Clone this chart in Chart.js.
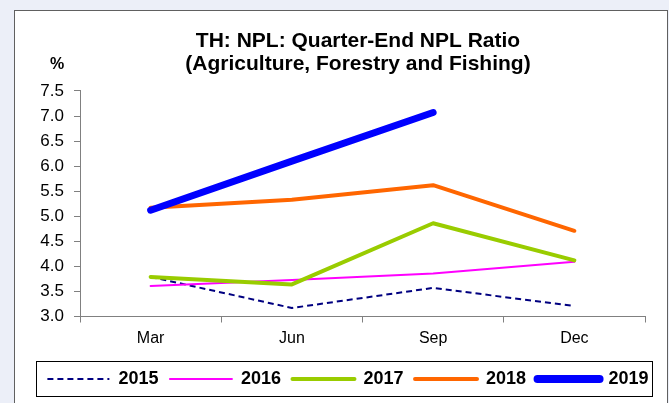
<!DOCTYPE html>
<html>
<head>
<meta charset="utf-8">
<script src="https://cdn.jsdelivr.net/npm/chart.js@4"></script>
<style>
  html, body { margin: 0; padding: 0; }
  body { width: 669px; height: 403px; background: #eceff8; overflow: hidden; position: relative; }
  #frame { position: absolute; left: 14px; top: 10px; width: 652px; height: 400px; border: 1px solid #606060; background: #fff; }
  #frame canvas { display: block; }
</style>
</head>
<body>
<div id="frame"><canvas id="npl" width="652" height="392"></canvas></div>
<script>
const quarters = ['Mar', 'Jun', 'Sep', 'Dec'];
const years = ['2015', '2016', '2017', '2018', '2019'];
const npl2015 = [3.79, 3.17, 3.57, 3.21];
const npl2016 = [3.61, 3.73, 3.86, 4.09];
const npl2017 = [3.79, 3.64, 4.86, 4.12];
const npl2018 = [5.17, 5.33, 5.62, 4.71];
const npl2019 = [5.12, 6.10, 7.07, null];
const yTicks = [3.0, 3.5, 4.0, 4.5, 5.0, 5.5, 6.0, 6.5, 7.0, 7.5];

const seriesStyle = [
  { color: '#000080', width: 2, dash: [6, 4], cap: 'butt' },
  { color: '#ff00ff', width: 2, dash: [], cap: 'round' },
  { color: '#99cc00', width: 4, dash: [], cap: 'round' },
  { color: '#ff6600', width: 4, dash: [], cap: 'round' },
  { color: '#0000ff', width: 7, dash: [], cap: 'round' }
];
const seriesValues = [npl2015, npl2016, npl2017, npl2018, npl2019];

const datasets = years.map((year, i) => ({
  label: year,
  data: seriesValues[i],
  borderColor: seriesStyle[i].color,
  backgroundColor: seriesStyle[i].color,
  borderWidth: seriesStyle[i].width,
  borderDash: seriesStyle[i].dash,
  borderCapStyle: seriesStyle[i].cap,
  borderJoinStyle: 'round',
  pointRadius: 0,
  fill: false,
  tension: 0,
  order: years.length - 1 - i // later years drawn on top
}));

const FONT = '"Liberation Sans", Arial, sans-serif';

// nudge title and legend sideways, draw the "%" label and the legend frame
const extras = {
  id: 'extras',
  afterLayout(chart) {
    chart.titleBlock.left += 28;
    chart.titleBlock.right += 28;
    chart.legend.left += 18;
    chart.legend.right += 18;
  },
  afterDraw(chart) {
    const ctx = chart.ctx;
    ctx.save();
    ctx.font = 'bold 16px ' + FONT;
    ctx.fillStyle = '#000';
    ctx.textAlign = 'center';
    ctx.textBaseline = 'middle';
    ctx.fillText('%', 42, 54);

    const first = chart.legend.legendHitBoxes[0];
    if (first) {
      const cy = Math.round(first.top + first.height / 2);
      ctx.strokeStyle = '#000';
      ctx.lineWidth = 1;
      ctx.strokeRect(21.5, cy - 17.5, 616, 35);
    }
    ctx.restore();
  }
};

new Chart(document.getElementById('npl'), {
  type: 'line',
  data: { labels: quarters, datasets: datasets },
  plugins: [extras],
  options: {
    responsive: false,
    animation: false,
    layout: { padding: { left: 0, right: 22, top: 0, bottom: 5 } },
    plugins: {
      title: {
        display: true,
        text: ['TH: NPL: Quarter-End NPL Ratio', '(Agriculture, Forestry and Fishing)'],
        color: '#000',
        font: { family: FONT, size: 21, weight: 'bold', lineHeight: 1.07 },
        padding: { top: 19, bottom: 16 }
      },
      legend: {
        position: 'bottom',
        labels: {
          usePointStyle: true,
          pointStyle: 'line',
          pointStyleWidth: 62,
          padding: 11.5,
          color: '#000',
          font: { family: FONT, size: 18, weight: 'bold' },
          sort: (a, b) => a.datasetIndex - b.datasetIndex,
          generateLabels: chart => Chart.defaults.plugins.legend.labels.generateLabels(chart).map(item => {
            const st = seriesStyle[item.datasetIndex];
            return Object.assign(item, { lineDash: st.dash, lineWidth: st.width + (st.width > 4 ? 1 : 0), lineCap: st.cap, strokeStyle: st.color });
          })
        }
      },
      tooltip: { enabled: false }
    },
    scales: {
      x: {
        offset: true,
        afterFit: s => { s.height = 42; },
        grid: { offset: true, drawOnChartArea: false, drawTicks: true, tickLength: 6, color: '#808080' },
        border: { color: '#808080', width: 1 },
        ticks: { color: '#000', padding: 6, font: { family: FONT, size: 16 } }
      },
      y: {
        min: 3,
        max: 7.5,
        afterFit: s => { s.width = 65; },
        afterBuildTicks: s => { s.ticks = yTicks.map(v => ({ value: v })); },
        grid: { drawOnChartArea: false, drawTicks: true, tickLength: 6, color: '#808080' },
        border: { color: '#808080', width: 1 },
        ticks: {
          color: '#000',
          padding: 10,
          font: { family: FONT, size: 17 },
          callback: v => Number(v).toFixed(1)
        }
      }
    }
  }
});
</script>
</body>
</html>
